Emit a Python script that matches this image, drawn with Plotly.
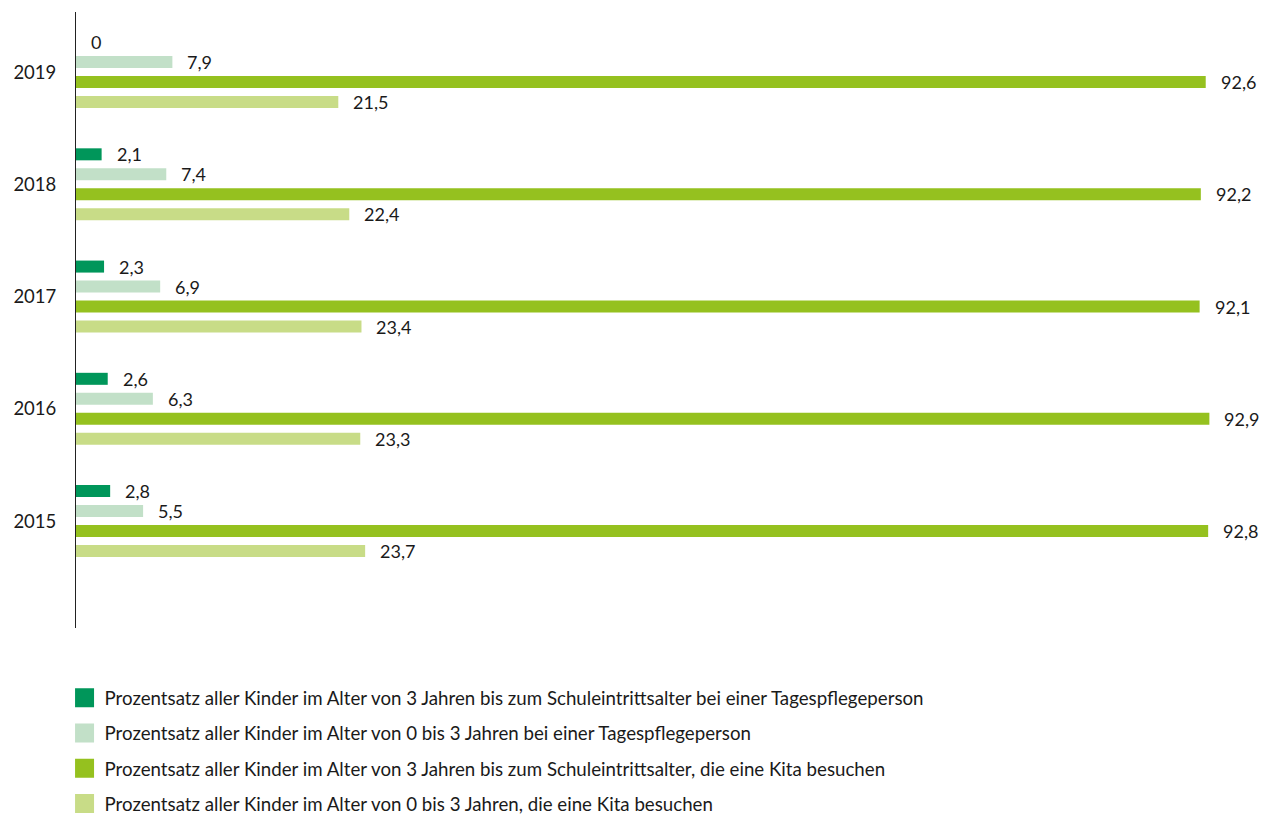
import plotly.graph_objects as go

years = ["2015", "2016", "2017", "2018", "2019"]
series_names = [
    "Prozentsatz aller Kinder im Alter von 3 Jahren bis zum Schuleintrittsalter bei einer Tagespflegeperson",
    "Prozentsatz aller Kinder im Alter von 0 bis 3 Jahren bei einer Tagespflegeperson",
    "Prozentsatz aller Kinder im Alter von 3 Jahren bis zum Schuleintrittsalter, die eine Kita besuchen",
    "Prozentsatz aller Kinder im Alter von 0 bis 3 Jahren, die eine Kita besuchen",
]
tagespflege_3_plus = [2.8, 2.6, 2.3, 2.1, 0]
tagespflege_0_3 = [5.5, 6.3, 6.9, 7.4, 7.9]
kita_3_plus = [92.8, 92.9, 92.1, 92.2, 92.6]
kita_0_3 = [23.7, 23.3, 23.4, 22.4, 21.5]

series_values = [tagespflege_3_plus, tagespflege_0_3, kita_3_plus, kita_0_3]
colors = ["#00965a", "#c2e0c8", "#95c11f", "#c8dc87"]
# vertical offset of each series inside a year group (in category units)
centers = [0.267, 0.089, -0.089, -0.267]
bar_w = 0.107

FONT = "Lato, 'Open Sans', sans-serif"
TXT = "#1a1a1a"


def fmt(v):
    return "0" if v == 0 else f"{v:.1f}".replace(".", ",")


ypos = list(range(len(years)))
fig = go.Figure()
annotations = []
for i, (name, vals, col, c) in enumerate(zip(series_names, series_values, colors, centers)):
    fig.add_trace(go.Bar(
        x=vals, y=ypos, orientation="h", name=name,
        marker=dict(color=col, line=dict(width=0)),
        width=bar_w, offset=c - bar_w / 2,
        legendgroup=f"g{i}", showlegend=False,
        hoverinfo="skip",
    ))
    # legend entry with a larger square swatch
    fig.add_trace(go.Scatter(
        x=[None], y=[None], mode="markers", name=name,
        marker=dict(symbol="square", size=16, color=col, line=dict(color=col, width=3)),
        legendgroup=f"g{i}", legendrank=i + 1, showlegend=True,
        hoverinfo="skip",
    ))
    for y, v in zip(ypos, vals):
        annotations.append(dict(
            x=v, y=y + c, xref="x", yref="y", text=fmt(v),
            showarrow=False, xanchor="left", yanchor="middle", xshift=13,
            font=dict(family=FONT, size=18, color=TXT),
        ))

fig.update_layout(
    width=1264, height=817,
    margin=dict(l=76, r=20, t=12, b=189, autoexpand=False),
    paper_bgcolor="white", plot_bgcolor="white",
    barmode="overlay",
    showlegend=True,
    legend=dict(
        x=-0.0098, xanchor="left", y=-0.0828, yanchor="top",
        font=dict(family=FONT, size=18.7, color=TXT),
        tracegroupgap=8, traceorder="grouped",
        bgcolor="rgba(0,0,0,0)",
    ),
    annotations=annotations,
    font=dict(family=FONT, color=TXT),
)
fig.update_xaxes(range=[0, 1168 / 12.2], visible=False, showgrid=False, zeroline=False)
fig.update_yaxes(
    range=[-0.953, 4.535], tickvals=ypos, ticktext=years,
    showline=True, linecolor="#222222", linewidth=1,
    showgrid=False, zeroline=False, ticks="", ticklabelstandoff=15,
    tickfont=dict(family=FONT, size=18.5, color=TXT),
)

fig.write_html(
    "out.html",
    config={"displayModeBar": False},
    post_script="document.body.style.margin='0';document.body.style.overflow='hidden';",
)
